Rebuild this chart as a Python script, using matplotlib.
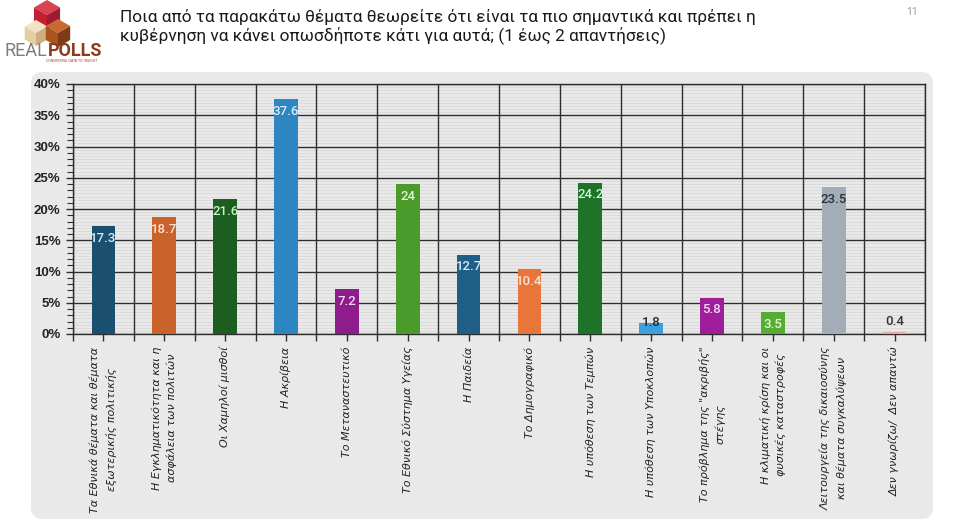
import matplotlib
matplotlib.use("Agg")
import matplotlib.pyplot as plt
from matplotlib.patches import FancyBboxPatch, Polygon
from matplotlib.ticker import FixedLocator, MultipleLocator
import numpy as np

# ---------------- data ----------------
title = ("Ποια από τα παρακάτω θέματα θεωρείτε ότι είναι τα πιο σημαντικά και πρέπει η\n"
         "κυβέρνηση να κάνει οπωσδήποτε κάτι για αυτά; (1 έως 2 απαντήσεις)")
page_number = "11"

categories = [
    "Τα Εθνικά θέματα και θέματα\nεξωτερικής πολιτικής",
    "Η Εγκληματικότητα και η\nασφάλεια των πολιτών",
    "Οι Χαμηλοί μισθοί",
    "Η Ακρίβεια",
    "Το Μεταναστευτικό",
    "Το Εθνικό Σύστημα Υγείας",
    "Η Παιδεία",
    "Το Δημογραφικό",
    "Η υπόθεση των Τεμπών",
    "Η υπόθεση των Υποκλοπών",
    "Το πρόβλημα της \"ακριβής\"\nστέγης",
    "Η κλιματική κρίση και οι\nφυσικές καταστροφές",
    "Λειτουργεία της δικαιοσύνης\nκαι θέματα συγκαλύψεων",
    "Δεν γνωρίζω/  Δεν απαντώ",
]
values = [17.3, 18.7, 21.6, 37.6, 7.2, 24, 12.7, 10.4, 24.2, 1.8, 5.8, 3.5, 23.5, 0.4]
bar_colors = ["#1B4F6F", "#C9622B", "#1B5E20", "#2E86C1", "#8E1C8C", "#4A9A2C", "#1F5F85",
              "#E8763A", "#1E7328", "#3DA0DC", "#A01E9B", "#55AD33", "#A3ADB8", "#F4A6A0"]
label_colors = ["#D8EAF7", "#FBE4D2", "#CDEFC6", "#D8EEFB", "#F3DAF3", "#E3F6D3", "#D8EAF7",
                "#FCE2CF", "#D3F4D3", "#1E2A38", "#F6DAF6", "#E3F6D3", "#2A3440", "#333333"]
y_ticks = [0, 5, 10, 15, 20, 25, 30, 35, 40]
y_tick_labels = ["0%", "5%", "10%", "15%", "20%", "25%", "30%", "35%", "40%"]

# ---------------- figure ----------------
W, H = 960, 527
fig = plt.figure(figsize=(W / 100, H / 100), dpi=100)
fig.patch.set_facecolor("white")


def fx(x):
    return x / W


def fy(y):
    return 1 - y / H


# grey rounded panel (behind everything)
panel = FancyBboxPatch((fx(31), fy(519)), fx(933) - fx(31), fy(72) - fy(519),
                       boxstyle="round,pad=0,rounding_size=0.012",
                       mutation_aspect=W / H,
                       transform=fig.transFigure, facecolor="#E9E9E9",
                       edgecolor="none", zorder=-10)
fig.patches.append(panel)

# ---------------- logo ----------------
axl = fig.add_axes([0, fy(68), fx(120), fy(0) - fy(68)])
axl.set_xlim(0, 120)
axl.set_ylim(68, 0)
axl.axis("off")


def cube(ax, cx, cy, s, top, left, right):
    k = 0.87 * s
    ax.add_patch(Polygon([(cx, cy - s), (cx + k, cy - s / 2), (cx, cy), (cx - k, cy - s / 2)],
                         closed=True, facecolor=top, edgecolor="none"))
    ax.add_patch(Polygon([(cx - k, cy - s / 2), (cx, cy), (cx, cy + s), (cx - k, cy + s / 2)],
                         closed=True, facecolor=left, edgecolor="none"))
    ax.add_patch(Polygon([(cx, cy), (cx + k, cy - s / 2), (cx + k, cy + s / 2), (cx, cy + s)],
                         closed=True, facecolor=right, edgecolor="none"))


cube(axl, 47, 15, 15, "#D9434F", "#C21F33", "#9C1B2E")
cube(axl, 36, 33, 13, "#F3E3C6", "#E6CDA2", "#CDAE82")
cube(axl, 58, 33, 14, "#C86A32", "#A9531F", "#7D3B16")
t_real = axl.text(5, 56, "REAL", fontsize=13, color="#7E7E7E", family="Roboto",
                  fontweight="normal", ha="left", va="baseline")
axl.annotate("POLLS", xy=(1, 0), xycoords=t_real, fontsize=13, color="#8C3B1F",
             family="Roboto", fontweight="bold", ha="left", va="bottom")
axl.text(72, 61.5, "CONVERTING DATA TO INSIGHT", fontsize=2.3, color="#B03030",
         ha="center", va="center", family="DejaVu Sans")

# title + page number
fig.text(fx(120), fy(27), title, fontsize=12.4, family="Roboto", color="#1A1A1A",
         ha="left", va="center", linespacing=1.22)
fig.text(fx(912), fy(12), page_number, fontsize=7.5, color="#9A9A9A",
         ha="center", va="center", family="Roboto")

# ---------------- chart ----------------
ax = fig.add_axes([fx(73), fy(334), fx(925) - fx(73), fy(84) - fy(334)])
ax.set_facecolor("#E9E9E9")
n = len(values)
x = np.arange(n)
ax.set_xlim(-0.5, n - 0.5)
ax.set_ylim(0, 40)

# grid
ax.hlines([v for v in np.arange(0.5, 40, 0.5) if v % 5 != 0], -0.5, n - 0.5,
          color="#D9D9D9", lw=0.6, zorder=1)
ax.hlines(y_ticks, -0.5, n - 0.5, color="#2E2E2E", lw=1.0, zorder=2)
ax.vlines(np.arange(-0.5, n, 1.0), 0, 40, color="#2E2E2E", lw=1.0, zorder=2)

ax.bar(x, values, width=0.39, color=bar_colors, zorder=3)

for i, (v, c) in enumerate(zip(values, label_colors)):
    if v >= 3:
        ax.annotate(f"{v:g}", (i, v), xytext=(0, -8.8), textcoords="offset points",
                    ha="center", va="center", fontsize=9.5, color=c,
                    family="Roboto", fontweight="medium", zorder=4)
    elif v >= 1:
        ax.annotate(f"{v:g}", (i, v), xytext=(0, 0), textcoords="offset points",
                    ha="center", va="center", fontsize=9.5, color=c,
                    family="Roboto", fontweight="medium", zorder=4)
    else:
        ax.annotate(f"{v:g}", (i, v), xytext=(0, 2.5), textcoords="offset points",
                    ha="center", va="bottom", fontsize=9.5, color=c,
                    family="Roboto", fontweight="medium", zorder=4)

for s in ax.spines.values():
    s.set_color("#2E2E2E")
    s.set_linewidth(1.0)

ax.yaxis.set_major_locator(FixedLocator(y_ticks))
ax.set_yticklabels(y_tick_labels, fontsize=9.5, fontweight="bold",
                   family="Liberation Sans", color="#222222")
ax.yaxis.set_minor_locator(MultipleLocator(1))
ax.tick_params(axis="y", which="major", length=5, width=1, color="#2E2E2E", pad=4)
ax.tick_params(axis="y", which="minor", length=4, width=0.8, color="#2E2E2E")

ax.set_xticks(x)
ax.set_xticks(np.arange(-0.5, n, 1.0), minor=True)
ax.set_xticklabels(categories, rotation=90, fontsize=8, fontstyle="italic",
                   family="DejaVu Sans", color="#222222", ha="center", va="top",
                   multialignment="center", linespacing=1.6)
ax.tick_params(axis="x", which="both", length=5, width=1, color="#2E2E2E", pad=4)

fig.savefig("out.png", dpi=100, facecolor="white")
